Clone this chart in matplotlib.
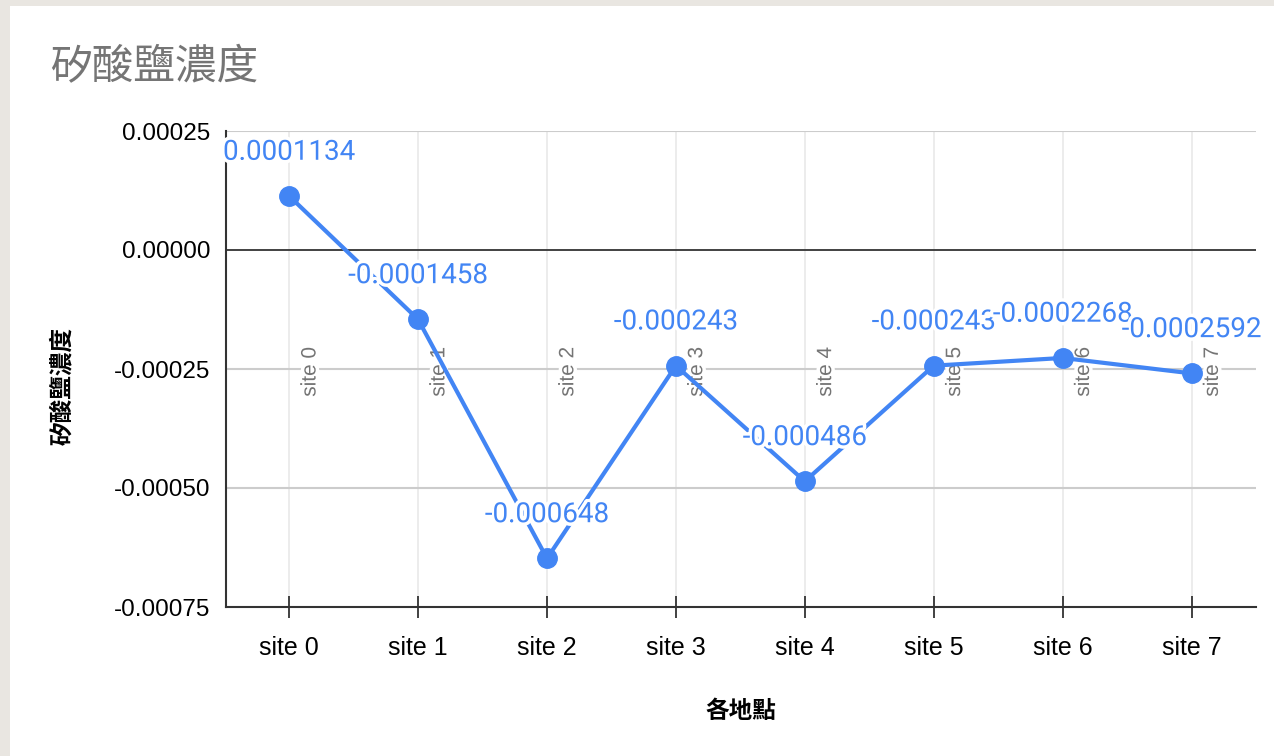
import matplotlib
matplotlib.use("Agg")
import matplotlib.pyplot as plt
import matplotlib.patheffects as pe
from matplotlib.patches import Rectangle
from matplotlib.ticker import FormatStrFormatter

plt.rcParams['font.family'] = ['Liberation Sans', 'Noto Sans CJK TC']

# data
sites = ["site 0", "site 1", "site 2", "site 3", "site 4", "site 5", "site 6", "site 7"]
values = [0.0001134, -0.0001458, -0.000648, -0.000243, -0.000486, -0.000243, -0.0002268, -0.0002592]
labels = ["0.0001134", "-0.0001458", "-0.000648", "-0.000243", "-0.000486", "-0.000243", "-0.0002268", "-0.0002592"]
yticks = [0.00025, 0.0, -0.00025, -0.0005, -0.00075]

title = "矽酸鹽濃度"
xlab = "各地點"
ylab = "矽酸鹽濃度"

blue = "#4285f4"
grey = "#757575"

W, H = 1274, 756
fig = plt.figure(figsize=(W / 100, H / 100), dpi=100)
fig.patch.set_facecolor("#e9e6e1")
# white card behind everything
fig.patches.append(Rectangle((10 / W, 0), 1, (H - 6) / H, transform=fig.transFigure,
                             facecolor="white", edgecolor="none", zorder=-5))

ax = fig.add_axes([226 / W, (H - 607) / H, (1256 - 226) / W, (607 - 131) / H])
ax.set_zorder(2)
ax.set_facecolor("none")

x = list(range(len(sites)))
ax.set_xlim(-0.49, 7.5)
ax.set_ylim(-0.00075, 0.00025)

# grid
for yv in yticks:
    if yv == 0:
        ax.axhline(yv, color="#333333", lw=1.3, zorder=1)
    elif yv > -0.00075:
        ax.axhline(yv, color="#cccccc", lw=1.5, zorder=1)
for xi in x:
    ax.axvline(xi, color="#ebebeb", lw=1.3, zorder=0.5)

halo = [pe.withStroke(linewidth=5, foreground="white")]

# category names drawn inside the plot
for xi, s in zip(x, sites):
    ax.annotate(s, (xi, -0.00025), xytext=(15, -2), textcoords="offset points",
                rotation=90, ha="center", va="center", fontsize=15, color=grey,
                path_effects=halo, zorder=2)

ax.plot(x, values, color=blue, lw=3, marker="o", markersize=14, zorder=3)

for xi, v, lb in zip(x, values, labels):
    ax.annotate(lb, (xi, v), xytext=(0, 31.5), textcoords="offset points",
                ha="center", va="center", fontsize=20, color=blue,
                family=["Roboto", "DejaVu Sans"], path_effects=halo, zorder=4)

ax.set_xticks(x)
ax.set_xticklabels(sites)
ax.set_yticks(yticks)
ax.yaxis.set_major_formatter(FormatStrFormatter("%.5f"))
ax.tick_params(axis="x", direction="inout", length=16, width=1.3, color="#333333",
               labelsize=18, pad=13)
ax.tick_params(axis="y", length=0, labelsize=17.5, pad=11)

for sp in ["top", "right"]:
    ax.spines[sp].set_visible(False)
ax.spines["left"].set_color("#333333")
ax.spines["left"].set_linewidth(1.5)
ax.spines["bottom"].set_color("#333333")
ax.spines["bottom"].set_linewidth(1.5)

fig.text(50 / W, 1 - 68 / H, title, fontsize=30, color=grey, ha="left", va="center")
fig.text(741 / W, 1 - 711 / H, xlab, fontsize=17, fontweight="bold", ha="center", va="center")
fig.text(63 / W, 1 - 386 / H, ylab, fontsize=17, fontweight="bold", rotation=90,
         ha="center", va="center")

fig.savefig("out.png", dpi=100, facecolor=fig.get_facecolor())
